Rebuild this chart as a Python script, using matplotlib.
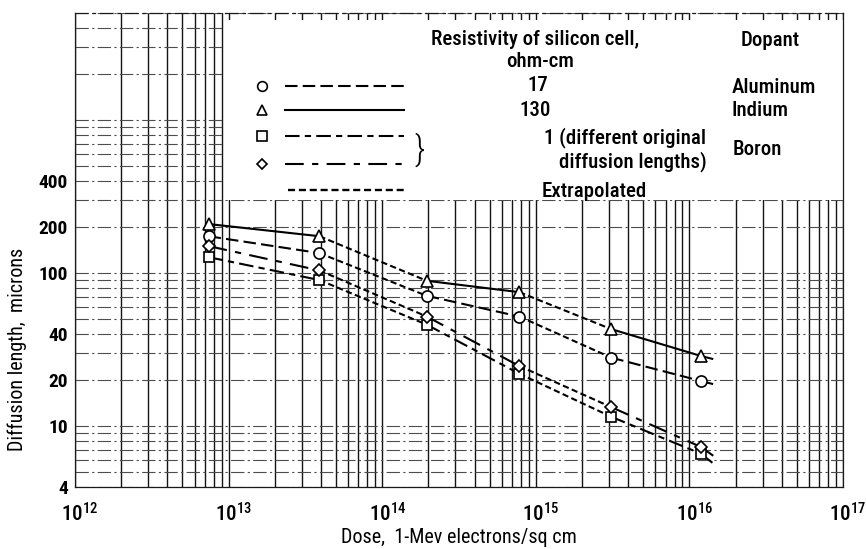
import numpy as np
import matplotlib
matplotlib.use('Agg')
from matplotlib import pyplot as plt
from matplotlib import ticker
from matplotlib.patches import Rectangle
import matplotlib.transforms as mtransforms

FONT = ['Roboto Condensed', 'DejaVu Sans']
plt.rcParams['font.family'] = FONT
plt.rcParams['font.weight'] = 'medium'
plt.rcParams['mathtext.fontset'] = 'custom'
plt.rcParams['mathtext.rm'] = 'Roboto Condensed:medium'
plt.rcParams['mathtext.it'] = 'Roboto Condensed:medium'

# data (dose in electrons/sq cm, diffusion length in microns)
dose = [7.4e12, 3.9e13, 1.95e14, 7.8e14, 3.1e15, 1.19e16]
al_17 = [174, 135, 71, 52, 28, 19.7]        # circles, aluminum
in_130 = [209, 174, 89, 75, 43, 28.7]       # triangles, indium
b_sq = [127, 90, 46, 22, 11.5, 6.6]         # squares, boron
b_dia = [150, 104, 52, 24.7, 13.3, 7.3]     # diamonds, boron
# where the faired curves stop, right of the last point
end_dose = 1.43e16
al_end, in_end, sq_end, dia_end = 18.8, 27.4, 5.7, 6.4

y_ticks = [4, 10, 20, 40, 100, 200, 400]
x_ticks = [1e12, 1e13, 1e14, 1e15, 1e16, 1e17]

fig = plt.figure(figsize=(8.66, 5.49), dpi=100)
ax = fig.add_axes([75/866, 1-487/549, 768/866, 474/549])
ax.set_xscale('log')
ax.set_yscale('log')
ax.set_xlim(1e12, 1e17)
ax.set_ylim(4, 5000)

# log paper grid
ax.set_axisbelow(True)
ax.xaxis.set_minor_locator(ticker.LogLocator(base=10, subs=np.arange(1, 10), numticks=50))
ax.yaxis.set_minor_locator(ticker.LogLocator(base=10, subs=np.arange(1, 10), numticks=50))
ax.xaxis.set_minor_formatter(ticker.NullFormatter())
ax.yaxis.set_minor_formatter(ticker.NullFormatter())
ax.grid(which='both', axis='x', color='0.08', lw=1.0)
ax.grid(which='both', axis='y', color='0.3', lw=0.8, ls=(0, (12, 3, 2, 3)))

ax.set_xticks(x_ticks)
ax.set_xticklabels([r'$10^{%d}$' % int(np.log10(v)) for v in x_ticks], fontsize=15)
ax.set_yticks(y_ticks)
ax.set_yticklabels([str(v) for v in y_ticks], fontsize=14, fontweight='semibold')
ax.tick_params(which='both', length=0)
ax.tick_params(axis='x', pad=11)
ax.tick_params(axis='y', pad=5)
off = mtransforms.ScaledTranslation(5/100, 0, fig.dpi_scale_trans)
for lab in ax.get_xticklabels():
    lab.set_transform(lab.get_transform() + off)

for s in ax.spines.values():
    s.set_color('0.1')
    s.set_linewidth(0.9)
ax.spines['top'].set_linestyle((0, (10, 4, 2, 4)))

ax.set_xlabel('Dose,  1-Mev electrons/sq cm', fontsize=14.5)
ax.xaxis.set_label_coords(0.5, -0.086)
ax.set_ylabel('Diffusion length,  microns', fontsize=14.5)
ax.yaxis.set_label_coords(-0.063, 0.29)

# white legend panel covering the paper
ax.add_patch(Rectangle((0.195, 0.605), 0.805, 0.38, transform=ax.transAxes,
                       facecolor='white', edgecolor='none', zorder=1))

STYLES = {
    'al': (0, (6, 2.5)),
    'in': '-',
    'sq': (0, (7, 2.5, 3, 2.5)),
    'dia': (0, (9, 4, 3, 4)),
}
EXTRAP = (0, (3, 1.6))
MARKERS = {'al': 'o', 'in': '^', 'sq': 's', 'dia': 'D'}
MSIZE = {'al': 8, 'in': 8.5, 'sq': 7.5, 'dia': 6.5}

series = [('al', al_17, al_end), ('in', in_130, in_end),
          ('sq', b_sq, sq_end), ('dia', b_dia, dia_end)]

for key, vals, yend in series:
    xs = list(dose) + [end_dose]
    ys = list(vals) + [yend]
    # measured stretches use the series style, gaps between use the extrapolated dash
    for i in range(len(xs) - 1):
        if i in (1, 3):
            ls, lw = EXTRAP, 1.5
        else:
            ls, lw = STYLES[key], 1.5
        ax.plot(xs[i:i+2], ys[i:i+2], color='black', ls=ls, lw=lw, zorder=3,
                solid_capstyle='butt', dash_capstyle='butt')
    ax.plot(dose, vals, ls='none', marker=MARKERS[key], ms=MSIZE[key],
            mfc='white', mec='black', mew=1.2, zorder=4)

# legend, drawn by hand
T = ax.transAxes
rows = [0.846, 0.795, 0.741, 0.681]
for (key, _, _), fy in zip(series, rows):
    ax.plot([0.2435], [fy], transform=T, ls='none', marker=MARKERS[key],
            ms=MSIZE[key] - 1, mfc='white', mec='black', mew=1.2, zorder=5)
    ax.plot([0.2734, 0.4284], [fy, fy], transform=T, color='black',
            ls=STYLES[key], lw=1.5, zorder=5, dash_capstyle='butt')
ax.plot([0.277, 0.431], [0.627, 0.627], transform=T, color='black', ls=EXTRAP,
        lw=1.7, zorder=5, dash_capstyle='butt')
ax.text(0.449, 0.711, '}', transform=T, fontsize=25, ha='center', va='center',
        zorder=5, fontweight='light')

kw = dict(transform=T, fontsize=15, zorder=5, va='center')
ax.text(0.599, 0.945, 'Resistivity of silicon cell,', ha='center', **kw)
ax.text(0.605, 0.897, 'ohm-cm', ha='center', **kw)
ax.text(0.603, 0.846, '17', ha='center', **kw)
ax.text(0.599, 0.795, '130', ha='center', **kw)
ax.text(0.822, 0.738, '1 (different original', ha='right', **kw)
ax.text(0.822, 0.686, 'diffusion lengths)', ha='right', **kw)
ax.text(0.676, 0.624, 'Extrapolated', ha='center', **kw)
ax.text(0.905, 0.943, 'Dopant', ha='center', **kw)
ax.text(0.855, 0.842, 'Aluminum', ha='left', **kw)
ax.text(0.855, 0.795, 'Indium', ha='left', **kw)
ax.text(0.856, 0.711, 'Boron', ha='left', **kw)

plt.savefig('out.png', dpi=100)
